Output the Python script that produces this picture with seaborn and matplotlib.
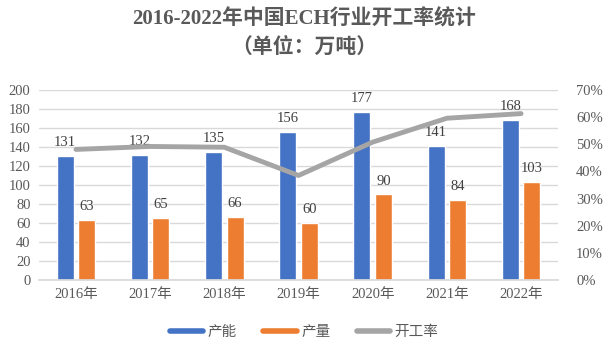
import matplotlib
matplotlib.use("Agg")
import matplotlib.pyplot as plt
from matplotlib.lines import Line2D
from matplotlib.ticker import PercentFormatter
import pandas as pd
import seaborn as sns

years = ["2016年", "2017年", "2018年", "2019年", "2020年", "2021年", "2022年"]
capacity = [131, 132, 135, 156, 177, 141, 168]
output = [63, 65, 66, 60, 90, 84, 103]
rate = [0.481, 0.492, 0.489, 0.385, 0.508, 0.596, 0.613]

blue = "#4472C4"
orange = "#ED7D31"
gray = "#A5A5A5"
text_color = "#595959"

sns.set_theme(style="white")
plt.rcParams["font.family"] = ["Liberation Serif", "Noto Sans CJK SC"]
plt.rcParams["axes.unicode_minus"] = False

df = pd.DataFrame({
    "year": years * 2,
    "value": capacity + output,
    "series": ["产能"] * len(years) + ["产量"] * len(years),
})

fig = plt.figure(figsize=(6.08, 3.53), dpi=100)
ax = fig.add_axes([0.064, 0.207, 0.854, 0.538])

sns.barplot(
    data=df, x="year", y="value", hue="series",
    palette=[blue, orange], width=0.58, gap=0.21,
    legend=False, ax=ax, saturation=1,
)
for cont in ax.containers:
    ax.bar_label(cont, padding=5, fontsize=10.5, color="#404040")

ax.set_ylim(0, 200)
ax.set_yticks(range(0, 201, 20))
ax.set_xlim(-0.5, len(years) - 0.5)
ax.set_xlabel("")
ax.set_ylabel("")
ax.yaxis.grid(True, color="#D9D9D9", linewidth=1)
ax.set_axisbelow(True)
for s in ["top", "right", "left"]:
    ax.spines[s].set_visible(False)
ax.spines["bottom"].set_color("#D9D9D9")
ax.tick_params(axis="both", length=0, labelsize=10.5, colors=text_color, pad=6)

ax2 = ax.twinx()
sns.lineplot(x=years, y=rate, color=gray, linewidth=3.5, ax=ax2, sort=False)
ax2.set_ylim(0, 0.7)
ax2.set_yticks([i / 10 for i in range(8)])
ax2.yaxis.set_major_formatter(PercentFormatter(1.0, decimals=0))
ax2.tick_params(axis="y", length=0, labelsize=10.5, colors=text_color, pad=13)
for s in ["top", "right", "left", "bottom"]:
    ax2.spines[s].set_visible(False)
ax2.set_ylabel("")

fig.text(0.5, 0.945, "2016-2022年中国ECH行业开工率统计", ha="center", va="center",
         fontsize=15, fontweight="bold", color=text_color)
fig.text(0.5, 0.865, "（单位：万吨）", ha="center", va="center",
         fontsize=15, fontweight="bold", color=text_color)

handles = [
    Line2D([], [], color=blue, linewidth=4),
    Line2D([], [], color=orange, linewidth=4),
    Line2D([], [], color=gray, linewidth=4),
]
fig.legend(handles, ["产能", "产量", "开工率"], loc="center", bbox_to_anchor=(0.5, 0.058),
           ncol=3, frameon=False, fontsize=10.5, labelcolor=text_color,
           handlelength=2.3, handletextpad=0.3, columnspacing=1.8)

fig.savefig("out.png", dpi=100)
